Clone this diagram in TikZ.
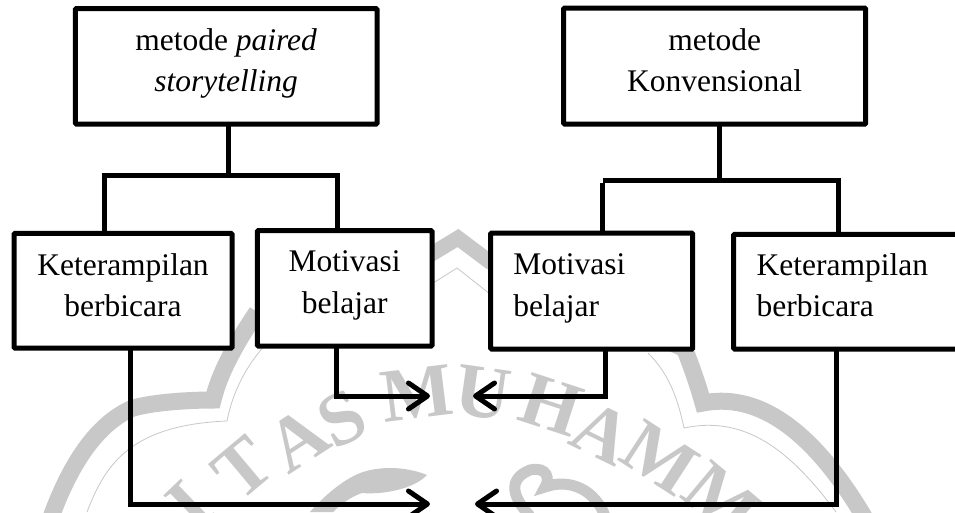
\documentclass[tikz,border=0pt]{standalone}
\usepackage{fontspec}
\setmainfont{Liberation Serif}
\usetikzlibrary{arrows.meta}
\definecolor{wm}{RGB}{200,200,200}
\newcommand{\boxtxt}[5]{\parbox[c][#2pt][t]{#1pt}{\fontsize{31.5}{41.7}\selectfont\hspace*{#4pt}\rule{0pt}{#3pt}#5}}
\newcommand{\boxctr}[4]{\parbox[c][#2pt][t]{#1pt}{\centering\fontsize{31.5}{41.7}\selectfont\rule{0pt}{#3pt}#4}}
\tikzset{
  bx/.style={draw=black,fill=white,line width=5pt,inner sep=0pt,outer sep=0pt,rounded corners=1pt},
  lnk/.style={draw=black,line width=5pt},
  arr/.style={lnk,-{Straight Barb[length=19pt,width=26pt,line width=5pt,round]}},
  wmband/.style={draw=wm,line width=17pt,line cap=butt},
  wmthin/.style={draw=wm,line width=0.8pt},
  wmtxt/.style={text=wm,font=\fontsize{76}{80}\selectfont\bfseries,inner sep=0pt}
}
\begin{document}
\begin{tikzpicture}[x=1pt,y=-1pt]
\useasboundingbox (0,0) rectangle (955,512);
\clip (0,0) rectangle (955,512);
\fill[white] (0,0) rectangle (955,512);
% watermark
\draw[wmband] (50,520) .. controls (75,450) and (105,420) .. (133,408) .. controls (155,402) and (190,400) .. (213,400) .. controls (218,380) and (228,355) .. (257,312);
\draw[wmband,line width=15pt,line join=miter] (257,312) -- (425,258) -- (458,238) -- (490,262) -- (685,350);
\draw[wmband] (685,350) .. controls (692,368) and (698,385) .. (703,403) .. controls (770,390) and (825,450) .. (866,520);
\draw[wmthin] (87,512) .. controls (105,465) and (130,425) .. (227,421) .. controls (232,395) and (245,365) .. (270,340);
\draw[wmthin] (430,285) -- (457,268) -- (490,294);
\draw[wmthin] (648,353) .. controls (670,375) and (678,400) .. (684,428) .. controls (745,415) and (790,450) .. (836,512);
\node[wmtxt,rotate=44] (w1) at (190,505) {I};
\node[wmtxt,rotate=40] (w2) at (243,468) {T};
\node[wmtxt,rotate=33] (w3) at (298,440) {A};
\node[wmtxt,rotate=27] (w4) at (342,419) {S};
\node[wmtxt,rotate=7] (w5) at (417,393) {M};
\node[wmtxt,rotate=-8] (w6) at (483,393) {U};
\node[wmtxt,rotate=-18] (w7) at (551,405) {H};
\node[wmtxt,rotate=-26] (w8) at (602,433) {A};
\node[wmtxt,rotate=-33] (w9) at (660,458) {M};
\node[wmtxt,rotate=-40] (w10) at (722,500) {M};
\fill[wm] (310,512) .. controls (325,495) and (345,478) .. (363,472) .. controls (385,465) and (410,468) .. (427,475) .. controls (415,488) and (385,495) .. (362,493) .. controls (350,497) and (340,505) .. (333,512) -- cycle;
\draw[wm,line width=11pt] (530,516) .. controls (515,500) and (505,480) .. (530,470) .. controls (548,466) and (550,480) .. (545,487) .. controls (570,478) and (595,490) .. (605,516);
% boxes
\node[bx] (A) at (226.15,66.35) {\boxctr{301.7}{115.3}{41.3}{metode \textit{paired}\\\textit{storytelling}}};
\node[bx] (B) at (714.7,66) {\boxctr{302}{116}{42}{metode\\Konvensional}};
\node[bx] (C) at (123,290.65) {\boxctr{218}{114.7}{41.7}{Keterampilan\\berbicara}};
\node[bx] (D) at (344.65,288.35) {\boxctr{174.7}{115.3}{41}{Motivasi\\belajar}};
\node[bx] (E) at (591.7,291) {\boxtxt{202}{116}{41.3}{22.6}{Motivasi\\\hspace*{22.6pt}belajar}};
\node[bx] (F) at (854.35,291.65) {\boxtxt{241.3}{114.7}{40.7}{23}{Keterampilan\\\hspace*{23pt}berbicara}};
% junctions
\coordinate (ja) at (228,175.5);
\coordinate (jal) at (104.3,175.5);
\coordinate (jar) at (337,175.5);
\coordinate (jb) at (719.3,180);
\coordinate (jbl) at (602.7,180);
\coordinate (jbr) at (838,180);
\draw[lnk] (A.south -| ja) -- (ja);
\draw[lnk] ([xshift=-2.5pt]jal) -- ([xshift=2.5pt]jar);
\draw[lnk] (jal) -- (C.north -| jal);
\draw[lnk] (jar) -- (D.north -| jar);
\draw[lnk] (B.south -| jb) -- (jb);
\draw[lnk] (jbl) -- ([xshift=2.5pt]jbr);
\draw[lnk] ([yshift=-2.5pt]jbl) -- (E.north -| jbl);
\draw[lnk] (jbr) -- (F.north -| jbr);
% arrows
\coordinate (t1) at (430,396);
\coordinate (t2) at (473,396);
\coordinate (t3) at (430,504);
\coordinate (t4) at (475,504);
\coordinate (c1) at (336.7,396);
\coordinate (c2) at (605.7,396);
\coordinate (c3) at (130.7,504);
\coordinate (c4) at (836,504);
\draw[arr] (D.south -| c1) -- (c1) -- (t1);
\draw[arr] (E.south -| c2) -- (c2) -- (t2);
\draw[arr] (C.south -| c3) -- (c3) -- (t3);
\draw[arr] (F.south -| c4) -- (c4) -- (t4);
\end{tikzpicture}
\end{document}
